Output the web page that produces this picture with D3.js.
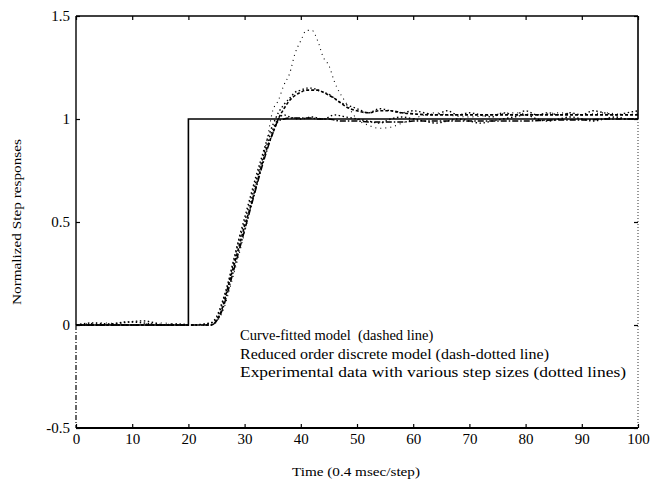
<!DOCTYPE html>
<html><head><meta charset="utf-8">
<script src="https://cdn.jsdelivr.net/npm/d3@7"></script>
<style>body{margin:0;background:#fff}svg{display:block}text{font-family:"Liberation Serif","Times New Roman",serif;fill:#000}</style>
</head><body><svg id="c" width="654" height="487"></svg>
<script>
// ---- data ----
const xTicks = [0,10,20,30,40,50,60,70,80,90,100];
const yTicks = [-0.5,0,0.5,1,1.5];
const yTickLabels = ["-0.5","0","0.5","1","1.5"];
const xTitle = "Time (0.4 msec/step)";
const yTitle = "Normalized Step responses";
const legendLines = ["Curve-fitted model\u00a0\u00a0(dashed line)",
  "Reduced order discrete model (dash-dotted line)",
  "Experimental data with various step sizes (dotted lines)"];

const stepTime  = [0,20,20,100];
const stepValue = [0,0,1,1];

const modelTime = [0,24,25,26,27,28,29,30,31,32,33,34,35,36,37,38,39,40,41,42,43,44,45,46,47,48,50,52,54,56,58,60,63,66,70,75,80,85,90,95,100];
const fittedValue = [0,0,0.02,0.08,0.18,0.28,0.38,0.48,0.57,0.67,0.77,0.86,0.93,1.0,1.05,1.09,1.115,1.13,1.14,1.14,1.14,1.13,1.115,1.1,1.08,1.06,1.04,1.03,1.04,1.04,1.03,1.025,1.02,1.02,1.02,1.02,1.02,1.02,1.02,1.02,1.02];
const reducedValue = [0,0,0.02,0.07,0.16,0.26,0.36,0.46,0.56,0.66,0.76,0.85,0.93,0.99,1.0,1.005,1.005,1.005,1.005,1.005,1.0,1.0,1.0,0.995,0.99,0.99,0.99,0.985,0.985,0.985,0.985,0.99,0.99,0.99,0.99,0.99,0.99,0.995,0.995,1.0,1.0];

const expATime  = [0,5,10,15,20,22,24,26,28,30,32,34,35,36,37,38,39,40,41,42,43,44,45,46,48,50,52,54,56,58,60,62,64,66,70,74,78,82,86,90,94,98,100];
const expAValue = [0,0.01,0,0.01,0,0,0,0.06,0.24,0.45,0.68,0.9,1.04,1.09,1.165,1.22,1.32,1.38,1.43,1.43,1.38,1.30,1.26,1.18,1.08,1.0,0.97,0.955,0.96,0.98,1.0,1.02,1.03,1.02,1.01,1.02,1.03,1.02,1.03,1.02,1.03,1.02,1.03];

const expBTime  = [0,3,6,9,12,15,18,21,24,25,26,27,28,29,30,31,32,33,34,35,36,37,38,39,40,41,42,43,44,45,46,47,48,49,50,52,54,56,58,60,62,64,66,68,70,72,74,76,78,80,82,84,86,88,90,92,94,96,98,100];
const expBValue = [0,0.01,0.005,0.015,0.01,0,0.005,0,0.01,0.04,0.11,0.2,0.31,0.42,0.52,0.62,0.72,0.81,0.9,0.97,1.03,1.07,1.1,1.13,1.14,1.15,1.15,1.14,1.13,1.12,1.1,1.08,1.07,1.06,1.05,1.03,1.05,1.04,1.03,1.04,1.03,1.02,1.04,1.02,1.03,1.02,1.01,1.03,1.02,1.04,1.02,1.03,1.02,1.03,1.02,1.04,1.03,1.02,1.03,1.04];

const expCTime  = [0,4,8,12,16,20,24,25,26,27,28,29,30,31,32,33,34,35,36,37,38,40,42,44,46,48,50,52,54,56,58,60,62,64,66,68,70,72,74,76,78,80,82,84,86,88,90,92,94,96,98,100];
const expCValue = [0,0,0.01,0.02,0,0,0.01,0.03,0.1,0.19,0.3,0.41,0.5,0.6,0.7,0.79,0.88,0.95,1.0,1.02,1.01,1.0,1.01,1.0,1.02,1.01,1.0,0.99,0.98,1.0,1.01,1.0,0.99,0.98,0.99,1.0,0.99,0.98,0.99,1.0,1.01,1.02,1.0,0.99,1.0,1.01,1.0,0.99,1.0,1.01,1.0,1.0];

// ---- drawing ----
const svg = d3.select("#c");
const x = d3.scaleLinear().domain([0,100]).range([76,638]);
const y = d3.scaleLinear().domain([-0.5,1.5]).range([428,16]);

const line = (tArr, vArr, curve) => d3.line().x(d=>x(d[0])).y(d=>y(d[1])).curve(curve||d3.curveMonotoneX)(tArr.map((t,i)=>[t,vArr[i]]));

const g = svg.append("g");
[[expATime,expAValue],[expBTime,expBValue],[expCTime,expCValue]].forEach(([t,v],k)=>{
  g.append("path").attr("d", line(t,v)).attr("fill","none").attr("stroke","#000")
   .attr("stroke-width", k===0?1.1:1.4).attr("stroke-dasharray", k===0?"1,4":"1.5,2.5");
});
g.append("path").attr("d", line(modelTime,reducedValue)).attr("fill","none").attr("stroke","#000")
 .attr("stroke-width",1.5).attr("stroke-dasharray","6,2,1.5,2");
g.append("path").attr("d", line(modelTime,fittedValue)).attr("fill","none").attr("stroke","#000")
 .attr("stroke-width",1.6).attr("stroke-dasharray","3,2");
g.append("path").attr("d", line(stepTime,stepValue,d3.curveLinear)).attr("fill","none").attr("stroke","#000").attr("stroke-width",1.6);

// frame
const [x0,x1] = x.range(), [yb,yt] = y.range();
svg.append("line").attr("x1",x0).attr("x2",x1).attr("y1",yt).attr("y2",yt).attr("stroke","#000").attr("stroke-width",1.6);
svg.append("line").attr("x1",x0).attr("x2",x1).attr("y1",yb).attr("y2",yb).attr("stroke","#000").attr("stroke-width",1.8);
svg.append("line").attr("x1",x0).attr("x2",x0).attr("y1",yt).attr("y2",y(0)).attr("stroke","#000").attr("stroke-width",1.4);
svg.append("line").attr("x1",x0).attr("x2",x0).attr("y1",y(0)).attr("y2",yb).attr("stroke","#000").attr("stroke-width",1.2).attr("stroke-dasharray","5,2,1,2");
svg.append("line").attr("x1",x1).attr("x2",x1).attr("y1",yt).attr("y2",y(1)).attr("stroke","#000").attr("stroke-width",1.6);
svg.append("line").attr("x1",x1).attr("x2",x1).attr("y1",y(1)).attr("y2",yb).attr("stroke","#444").attr("stroke-width",1.1).attr("stroke-dasharray","1,2");

// axes
const xb = svg.append("g").attr("transform",`translate(0,${yb})`)
  .call(d3.axisBottom(x).tickValues(xTicks).tickFormat(d3.format("d")).tickSizeInner(-4).tickSizeOuter(0).tickPadding(5));
const xtop = svg.append("g").attr("transform",`translate(0,${yt})`)
  .call(d3.axisTop(x).tickValues(xTicks).tickFormat("").tickSizeInner(-4).tickSizeOuter(0));
const yl = svg.append("g").attr("transform",`translate(${x0},0)`)
  .call(d3.axisLeft(y).tickValues(yTicks).tickFormat((d,i)=>yTickLabels[i]).tickSizeInner(-4).tickSizeOuter(0).tickPadding(6));
const yr = svg.append("g").attr("transform",`translate(${x1},0)`)
  .call(d3.axisRight(y).tickValues(yTicks).tickFormat("").tickSizeInner(-4).tickSizeOuter(0));
[xb,xtop,yl,yr].forEach(a=>{a.select(".domain").remove(); a.selectAll(".tick line").attr("stroke","#000").attr("stroke-width",1.2);
  a.selectAll("text").attr("font-family","Liberation Serif").attr("font-size",15).attr("fill","#000");});

// titles
svg.append("text").attr("x",356).attr("y",476).attr("text-anchor","middle").attr("font-size",13.5)
  .attr("textLength",128).attr("lengthAdjust","spacingAndGlyphs").text(xTitle);
svg.append("text").attr("transform","translate(21,222) rotate(-90)").attr("text-anchor","middle").attr("font-size",13.5)
  .attr("textLength",166).attr("lengthAdjust","spacingAndGlyphs").text(yTitle);

// legend text
const legendWidths = [null,309,386];
svg.append("g").selectAll("text").data(legendLines).join("text")
  .attr("x",240).attr("y",(d,i)=>340+i*18.5).attr("font-size",14.5)
  .attr("textLength",(d,i)=>legendWidths[i]).attr("lengthAdjust","spacingAndGlyphs").text(d=>d);
</script></body></html>
